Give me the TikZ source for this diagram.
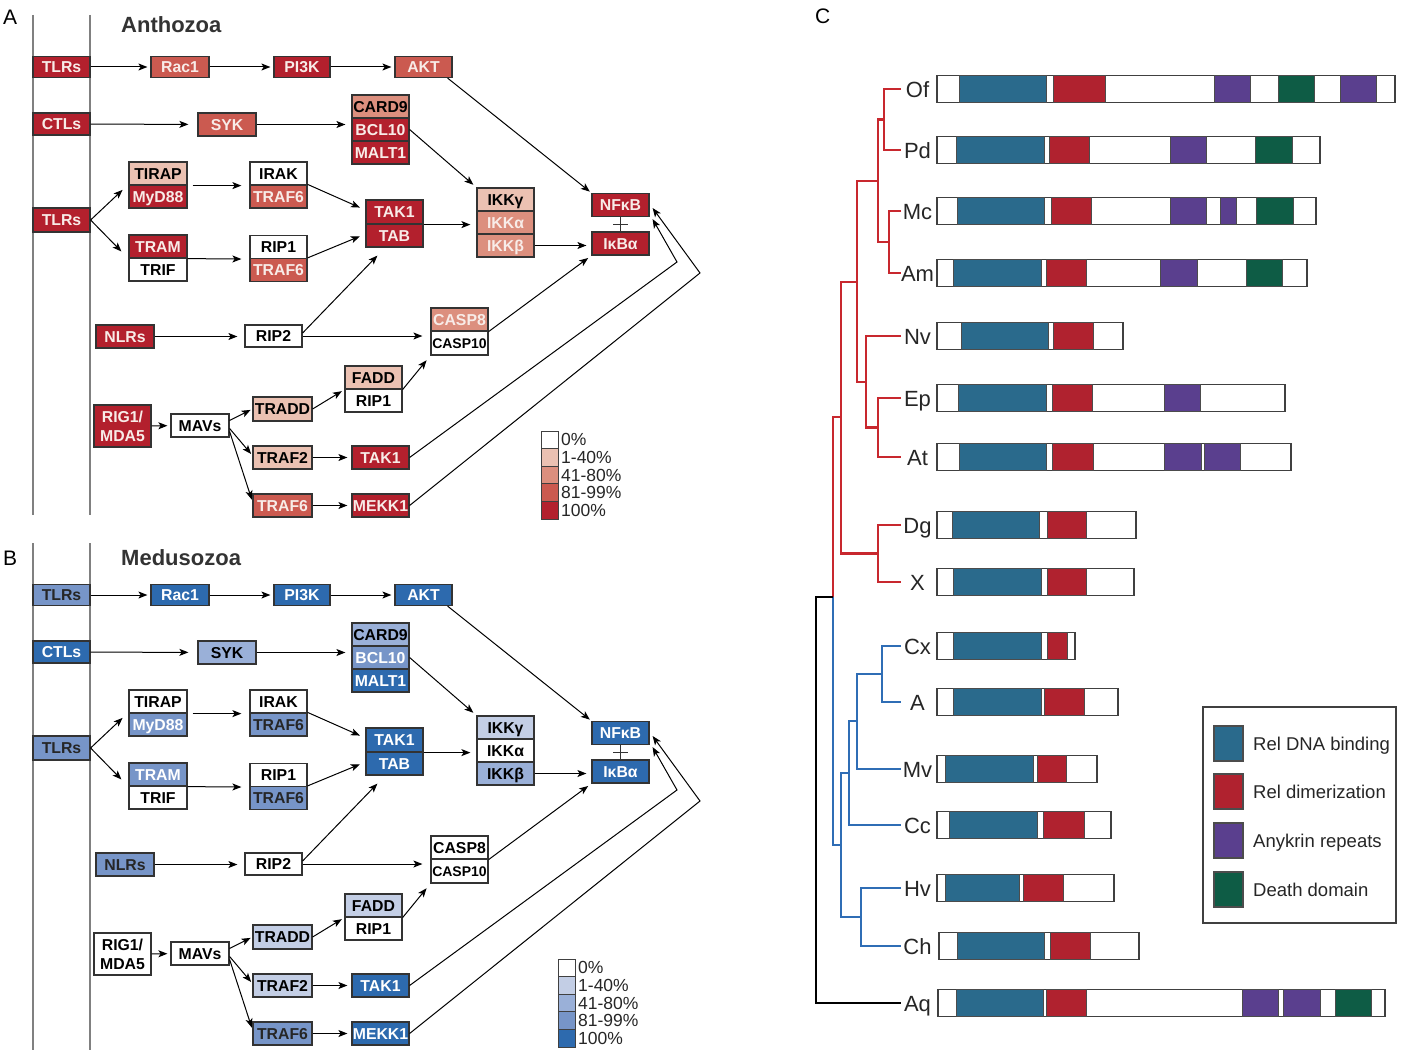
\documentclass[tikz,border=0pt]{standalone}
\usepackage{fontspec}
\setmainfont{Liberation Sans}
\usetikzlibrary{arrows.meta,calc}
\definecolor{R1}{HTML}{EBC1B2}
\definecolor{R2}{HTML}{DC8F7E}
\definecolor{R3}{HTML}{CB5A50}
\definecolor{R4}{HTML}{B3202D}
\definecolor{RT}{HTML}{F8ECE8}
\definecolor{B1}{HTML}{C3CEE5}
\definecolor{B2}{HTML}{9AB0D8}
\definecolor{B3}{HTML}{7795C8}
\definecolor{B4}{HTML}{2D6AAE}
\definecolor{DB}{HTML}{2A6A8C}
\definecolor{DM}{HTML}{B0222F}
\definecolor{AR}{HTML}{5A3F8E}
\definecolor{DD}{HTML}{0E5C45}
\definecolor{TR}{HTML}{C8282E}
\definecolor{TB}{HTML}{2F6DB5}
\definecolor{PL}{HTML}{808080}
\newcommand\boxfont{\bfseries\fontsize{15.8}{19}\selectfont}
\newcommand\ppre{A}
\newcommand\yoff{0}
\newcommand\bx[7]{\node[pbox,#6,minimum width=#4pt,minimum height=#5pt,text height=11.3pt,text depth=0pt] (\ppre-#1) at (#2,#3+\yoff) {#7};}
\newcommand\pconn{%
  \coordinate (\ppre-bendA) at (677,262+\yoff);
  \coordinate (\ppre-bendB) at (700,273+\yoff);
  \draw[arr] (\ppre-tlr1) -- (\ppre-rac);
  \draw[arr] (\ppre-rac) -- (\ppre-pik);
  \draw[arr] (\ppre-pik) -- (\ppre-akt);
  \draw[arr,shorten >=2pt] ($(\ppre-akt.south east)+(-5,0)$) -- (\ppre-nfk.north west);
  \draw[arr,shorten >=9pt] (\ppre-ctl) -- (\ppre-syk);
  \draw[arr,shorten >=6pt] (\ppre-syk.east) -- (\ppre-syk.east -| \ppre-bcl.west);
  \draw[arr,shorten >=4pt] (\ppre-bcl.east) -- (\ppre-ikg.north west);
  \draw[arr,shorten >=8pt] (\ppre-tlr2.east) -- (\ppre-myd.north west);
  \draw[arr,shorten >=10pt] (\ppre-tlr2.east) -- (\ppre-tram.south west);
  \draw[arr,shorten >=8pt] ($(\ppre-tirap.south east)+(5,0)$) -- (\ppre-irak.south west);
  \draw[arr,shorten >=8pt] (\ppre-tram.south east) -- (\ppre-ripa.south west);
  \draw[arr,shorten >=6pt] (\ppre-trfa.north east) -- ($(\ppre-tak.west)+(0,-2)$);
  \draw[arr,shorten >=6pt] (\ppre-trfb.north east) -- ($(\ppre-tab.west)+(0,-1.5)$);
  \draw[arr,shorten >=7pt] (\ppre-nlr) -- (\ppre-nlr -| \ppre-rip2.west);
  \draw[arr,shorten >=0pt] ($(\ppre-rip2.east)+(0,-3)$) -- ($(\ppre-tab.south west)+(12,8)$);
  \draw[arr,shorten >=8pt] (\ppre-rip2.east) -- (\ppre-rip2.east -| \ppre-csp8.west);
  \draw[arr,shorten >=6pt] (\ppre-tak.south east) -- (\ppre-tak.south east -| \ppre-ika.west);
  \draw[arr,shorten >=5pt] (\ppre-ikb.east) -- (\ppre-ikb.east -| \ppre-ikba.west);
  \draw[arr,shorten >=4pt] (\ppre-csp8.south east) -- (\ppre-ikba.south west);
  \draw[arr,shorten >=3pt] (\ppre-trdd.east) -- (\ppre-fadd.south west);
  \draw[arr,shorten >=6pt] (\ppre-fadd.south east) -- (\ppre-csp10.south west);
  \draw[arr,shorten >=3pt] (\ppre-rig) -- (\ppre-mav);
  \draw[arr,shorten >=2pt] ($(\ppre-mav.east)+(0,-5)$) -- (\ppre-trdd.west);
  \draw[arr,shorten >=2pt] ($(\ppre-mav.east)+(0,3)$) -- ($(\ppre-trf2.west)+(0,-2)$);
  \draw[arr,shorten >=2pt] ($(\ppre-mav.east)+(0,6)$) -- ($(\ppre-trfc.west)+(0,-4)$);
  \draw[arr,shorten >=4pt] (\ppre-trf2) -- (\ppre-takb);
  \draw[arr,shorten >=4pt] (\ppre-trfc) -- (\ppre-mekk);
  \draw[arr,shorten >=0pt] (\ppre-takb.east) -- (\ppre-bendA) -- ($(\ppre-nfk.south east)+(3,2)$);
  \draw[arr,shorten >=0pt] (\ppre-mekk.east) -- (\ppre-bendB) -- ($(\ppre-nfk.east)+(3,3)$);
  \draw[inh] (\ppre-nfk.south) -- (\ppre-ikba.north);
  \draw[inh] ($(\ppre-nfk.south)+(-7.5,7.5)$) -- ++(15,0);
}
\newcommand\plegend[5]{%
  \foreach \c/\t [count=\i from 0] in {white/0\%,#2/1-40\%,#3/41-80\%,#4/81-99\%,#5/100\%}{
    \draw[legbox,fill=\c] (#1,431+\yoff+17.6*\i) rectangle ++(17,17.6);
    \node[legtext] (\ppre-leg\i) at (#1+20,431+\yoff+17.6*\i+8.8) {\t};
  }}
\begin{document}
\begin{tikzpicture}[x=1pt,y=-1pt,
  pbox/.style={draw=black!80,line width=1.2pt,inner sep=0pt,font=\boxfont},
  smallbox/.style={font=\bfseries\fontsize{14}{15}\selectfont},
  r0/.style={fill=white,text=black}, r1/.style={fill=R1,text=black},
  r2k/.style={fill=R2,text=black}, r2w/.style={fill=R2,text=RT},
  r3/.style={fill=R3,text=RT}, r4/.style={fill=R4,text=RT},
  b0/.style={fill=white,text=black}, b1/.style={fill=B1,text=black},
  b2k/.style={fill=B2,text=black}, b3k/.style={fill=B3,text=black!85},
  b3w/.style={fill=B3,text=white}, b4/.style={fill=B4,text=white},
  arr/.style={-{Stealth[length=9pt,width=7pt,inset=2.2pt]},line width=1pt,shorten >=3pt},
  inh/.style={line width=1.2pt,draw=black!80},
  pline/.style={draw=PL,line width=1.5pt},
  legbox/.style={draw=black!75,line width=0.9pt},
  legtext/.style={anchor=west,inner sep=0pt,font=\fontsize{17.5}{17.5}\selectfont,text=black!85},
  plabel/.style={anchor=base west,inner sep=0pt,font=\fontsize{21}{21}\selectfont},
  ptitle/.style={anchor=base west,inner sep=0pt,font=\bfseries\fontsize{22}{22}\selectfont,text=black!80},
  tr/.style={line width=2.2pt},
  barline/.style={draw=black!75,line width=1.3pt,fill=white},
  domline/.style={draw=black!70,line width=0.8pt},
  taxon/.style={anchor=base,inner sep=0pt,font=\fontsize{22}{22}\selectfont,text=black!85},
  legc/.style={anchor=base west,inner sep=0pt,font=\fontsize{18.5}{18.5}\selectfont,text=black!85}
]
\useasboundingbox (0,0) rectangle (1401,1057);
\fill[white] (0,0) rectangle (1401,1057);
% ---------------- Panel A ----------------
\node[plabel] (lab-A) at (3,25) {A};
\node[ptitle] (tit-A) at (121,33) {Anthozoa};
\draw[pline] (33,15) -- (33,515);
\draw[pline] (90,15) -- (90,515);
\renewcommand\ppre{A}\renewcommand\yoff{0}
\bx{tlr1}{61.5}{67}{57}{21}{r4}{TLRs}
\bx{rac}{180}{67}{58}{21}{r3}{Rac1}
\bx{pik}{302}{67}{56}{21}{r4}{PI3K}
\bx{akt}{423.5}{67}{57}{21}{r3}{AKT}
\bx{ctl}{61.5}{124}{57}{22}{r4}{CTLs}
\bx{syk}{227}{124.5}{58}{23}{r3}{SYK}
\bx{card}{380.5}{106.5}{57}{23}{r2k}{CARD9}
\bx{bcl}{380.5}{129.5}{57}{23}{r4}{BCL10}
\bx{malt}{380.5}{152.5}{57}{23}{r4}{MALT1}
\bx{tlr2}{61.5}{220}{57}{24}{r4}{TLRs}
\bx{tirap}{158}{173.5}{58}{23}{r1}{TIRAP}
\bx{myd}{158}{196.5}{58}{23}{r4}{MyD88}
\bx{irak}{278.5}{173.5}{57}{23}{r0}{IRAK}
\bx{trfa}{278.5}{196.5}{57}{23}{r3}{TRAF6}
\bx{tram}{158}{246.5}{58}{23}{r4}{TRAM}
\bx{trif}{158}{269.5}{58}{23}{r0}{TRIF}
\bx{ripa}{278.5}{247}{57}{23}{r0}{RIP1}
\bx{trfb}{278.5}{270}{57}{23}{r3}{TRAF6}
\bx{tak}{394.5}{212}{57}{24}{r4}{TAK1}
\bx{tab}{394.5}{235.5}{57}{23}{r4}{TAB}
\bx{ikg}{505.5}{199.5}{57}{23}{r1}{IKKγ}
\bx{ika}{505.5}{222.5}{57}{23}{r2w}{IKKα}
\bx{ikb}{505.5}{245.5}{57}{23}{r2w}{IKKβ}
\bx{nfk}{620.5}{205}{57}{23}{r4}{NFκB}
\bx{ikba}{620.5}{243.5}{57}{23}{r4}{IκBα}
\bx{nlr}{125}{336.5}{58}{23}{r4}{NLRs}
\bx{rip2}{273.5}{336}{57}{22}{r0}{RIP2}
\bx{csp8}{459.5}{319.5}{57}{23}{r2w}{CASP8}
\bx{csp10}{459.5}{343}{57}{24}{r0,smallbox}{CASP10}
\bx{fadd}{373.5}{377.5}{57}{23}{r1}{FADD}
\bx{ripc}{373.5}{400.5}{57}{23}{r0}{RIP1}
\node[pbox,r4,minimum width=57pt,minimum height=42pt,align=center] (\ppre-rig) at (122.5,426+\yoff) {RIG1/\\MDA5};
\bx{mav}{200}{425.5}{58}{23}{r0}{MAVs}
\bx{trdd}{282.5}{409}{59}{24}{r1}{TRADD}
\bx{trf2}{282.5}{457.5}{59}{23}{r1}{TRAF2}
\bx{takb}{380.5}{457.5}{57}{23}{r4}{TAK1}
\bx{trfc}{282.5}{505.5}{59}{23}{r3}{TRAF6}
\bx{mekk}{380.5}{505.5}{57}{23}{r4}{MEKK1}
\pconn
\plegend{541}{R1}{R2}{R3}{R4}
% ---------------- Panel B ----------------
\node[plabel] (lab-B) at (3,565) {B};
\node[ptitle] (tit-B) at (121,565) {Medusozoa};
\draw[pline] (33,543) -- (33,1050);
\draw[pline] (90,543) -- (90,1050);
\renewcommand\ppre{B}\renewcommand\yoff{528}
\bx{tlr1}{61.5}{67}{57}{21}{b3k}{TLRs}
\bx{rac}{180}{67}{58}{21}{b4}{Rac1}
\bx{pik}{302}{67}{56}{21}{b4}{PI3K}
\bx{akt}{423.5}{67}{57}{21}{b4}{AKT}
\bx{ctl}{61.5}{124}{57}{22}{b4}{CTLs}
\bx{syk}{227}{124.5}{58}{23}{b2k}{SYK}
\bx{card}{380.5}{106.5}{57}{23}{b2k}{CARD9}
\bx{bcl}{380.5}{129.5}{57}{23}{b3w}{BCL10}
\bx{malt}{380.5}{152.5}{57}{23}{b4}{MALT1}
\bx{tlr2}{61.5}{220}{57}{24}{b3k}{TLRs}
\bx{tirap}{158}{173.5}{58}{23}{b0}{TIRAP}
\bx{myd}{158}{196.5}{58}{23}{b3w}{MyD88}
\bx{irak}{278.5}{173.5}{57}{23}{b0}{IRAK}
\bx{trfa}{278.5}{196.5}{57}{23}{b3k}{TRAF6}
\bx{tram}{158}{246.5}{58}{23}{b3w}{TRAM}
\bx{trif}{158}{269.5}{58}{23}{b0}{TRIF}
\bx{ripa}{278.5}{247}{57}{23}{b0}{RIP1}
\bx{trfb}{278.5}{270}{57}{23}{b3k}{TRAF6}
\bx{tak}{394.5}{212}{57}{24}{b4}{TAK1}
\bx{tab}{394.5}{235.5}{57}{23}{b4}{TAB}
\bx{ikg}{505.5}{199.5}{57}{23}{b1}{IKKγ}
\bx{ika}{505.5}{222.5}{57}{23}{b0}{IKKα}
\bx{ikb}{505.5}{245.5}{57}{23}{b2k}{IKKβ}
\bx{nfk}{620.5}{205}{57}{23}{b4}{NFκB}
\bx{ikba}{620.5}{243.5}{57}{23}{b4}{IκBα}
\bx{nlr}{125}{336.5}{58}{23}{b3k}{NLRs}
\bx{rip2}{273.5}{336}{57}{22}{b0}{RIP2}
\bx{csp8}{459.5}{319.5}{57}{23}{b0}{CASP8}
\bx{csp10}{459.5}{343}{57}{24}{b0,smallbox}{CASP10}
\bx{fadd}{373.5}{377.5}{57}{23}{b1}{FADD}
\bx{ripc}{373.5}{400.5}{57}{23}{b0}{RIP1}
\node[pbox,b0,minimum width=57pt,minimum height=42pt,align=center] (\ppre-rig) at (122.5,426+\yoff) {RIG1/\\MDA5};
\bx{mav}{200}{425.5}{58}{23}{b0}{MAVs}
\bx{trdd}{282.5}{409}{59}{24}{b1}{TRADD}
\bx{trf2}{282.5}{457.5}{59}{23}{b1}{TRAF2}
\bx{takb}{380.5}{457.5}{57}{23}{b4}{TAK1}
\bx{trfc}{282.5}{505.5}{59}{23}{b3k}{TRAF6}
\bx{mekk}{380.5}{505.5}{57}{23}{b4}{MEKK1}
\pconn
\plegend{558}{B1}{B2}{B3}{B4}
% ---------------- Panel C ----------------
\node[plabel] (lab-C) at (815,24) {C};
\draw[tr,TR] (901,89)--(884,89)--(884,150)--(901,150);
\draw[tr,TR] (901,211)--(889,211)--(889,273)--(901,273);
\draw[tr,TR] (884,119.5)--(878,119.5)--(878,242)--(889,242);
\draw[tr,TR] (878,181)--(857,181)--(857,382)--(866,382);
\draw[tr,TR] (901,336)--(866,336)--(866,427.5)--(878,427.5);
\draw[tr,TR] (901,398)--(878,398)--(878,457)--(901,457);
\draw[tr,TR] (857,282)--(841,282)--(841,553.5)--(878,553.5);
\draw[tr,TR] (901,525)--(878,525)--(878,582)--(901,582);
\draw[tr,TR] (841,417)--(833,417)--(833,598);
\draw[tr,TB] (833,597)--(833,845)--(841,845);
\draw[tr,TB] (901,646)--(882,646)--(882,702)--(901,702);
\draw[tr,TB] (882,674)--(857,674)--(857,769)--(901,769);
\draw[tr,TB] (857,721)--(849,721)--(849,825)--(901,825);
\draw[tr,TB] (849,773)--(841,773)--(841,917)--(861,917);
\draw[tr,TB] (901,888)--(861,888)--(861,946)--(901,946);
\draw[tr,black] (833,597)--(816,597)--(816,1003)--(901,1003);
\foreach \y/\n/\a/\b in {89/Of/937/1395,150/Pd/937/1320,211/Mc/937/1316,273/Am/937/1307,
  336/Nv/937/1123,398/Ep/937/1285,457/At/937/1291,525/Dg/937/1136,582/X/937/1134,
  646/Cx/937/1075,702/A/937/1118,769/Mv/937/1097,825/Cc/937/1111,888/Hv/937/1114,
  946/Ch/939/1139,1003/Aq/938/1385}{
  \draw[barline] (\a,\y-13.5) rectangle (\b,\y+13.5);
  \node[taxon] (tx-\n) at (917.5,\y+8) {\n};
}
\foreach \c/\y/\a/\b in {DB/89/959/1046,DM/89/1053/1105,AR/89/1214/1250,DD/89/1278/1314,AR/89/1340/1376,
  DB/150/956/1044,DM/150/1049/1089,AR/150/1170/1206,DD/150/1255/1292,
  DB/211/957/1044,DM/211/1051/1091,AR/211/1170/1206,AR/211/1220/1236,DD/211/1256/1293,
  DB/273/953/1041,DM/273/1046/1086,AR/273/1160/1197,DD/273/1246/1282,
  DB/336/961/1048,DM/336/1053/1093,
  DB/398/958/1046,DM/398/1052/1092,AR/398/1164/1200,
  DB/457/959/1046,DM/457/1052/1093,AR/457/1164/1201,AR/457/1204/1240,
  DB/525/952/1039,DM/525/1047/1086,
  DB/582/953/1041,DM/582/1047/1086,
  DB/646/953/1041,DM/646/1047/1067,
  DB/702/953/1041,DM/702/1044/1084,
  DB/769/945/1033,DM/769/1037/1066,
  DB/825/949/1037,DM/825/1043/1084,
  DB/888/945/1019,DM/888/1023/1063,
  DB/946/957/1044,DM/946/1050/1090,
  DB/1003/956/1043,DM/1003/1046/1086,AR/1003/1242/1278,AR/1003/1283/1320,DD/1003/1335/1371}{
  \draw[domline,fill=\c] (\a,\y-13.5) rectangle (\b,\y+13.5);
}
\draw[barline] (1203,707) rectangle (1396,923);
\foreach \c/\y/\t in {DB/726/Rel DNA binding,DM/774/Rel dimerization,AR/823/Anykrin repeats,DD/872/Death domain}{
  \draw[domline,line width=1.2pt,fill=\c] (1214,\y) rectangle (1243,\y+35);
  \node[legc] (lc-\c) at (1253,\y+24) {\t};
}
\end{tikzpicture}
\end{document}
